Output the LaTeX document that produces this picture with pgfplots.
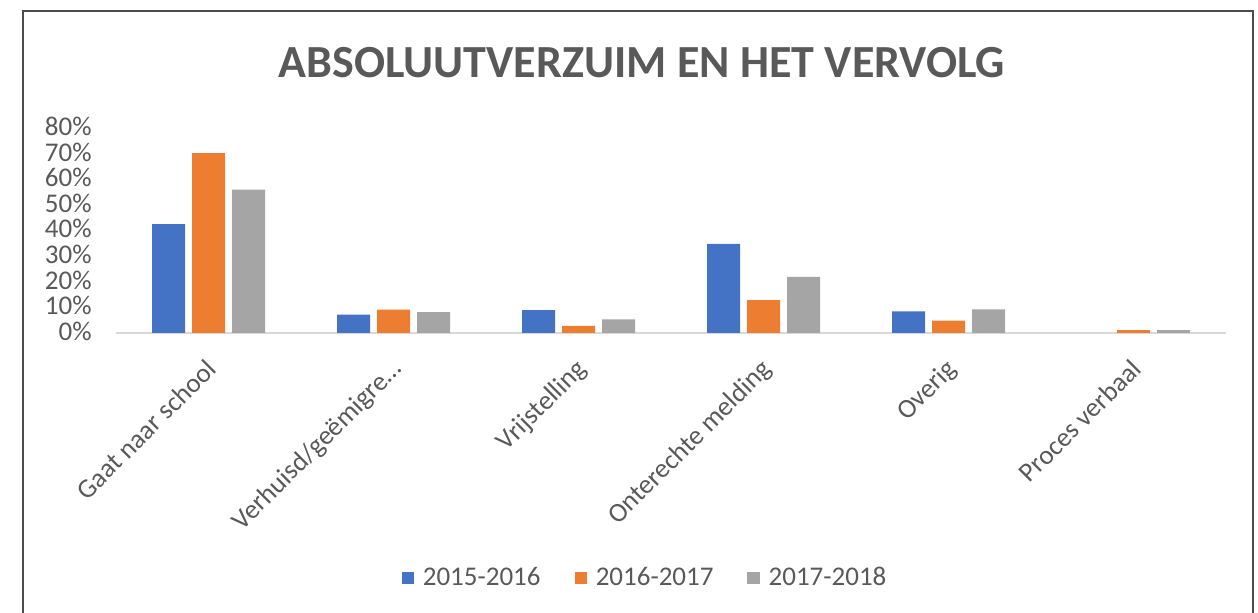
\documentclass[border=0pt]{standalone}
\usepackage{fontspec}
\setmainfont{Carlito}
\usepackage{pgfplots}
\pgfplotsset{compat=1.18}
\definecolor{cblue}{HTML}{4472C4}
\definecolor{corange}{HTML}{ED7D31}
\definecolor{cgray}{HTML}{A5A5A5}
\definecolor{txt}{HTML}{595959}

\pgfplotsset{
  sq legend/.style={legend image code/.code={\fill[##1] (0bp,-3.2bp) rectangle (6.4bp,3.2bp); \path (8.6bp,0bp);}}
}

\begin{document}
\begin{tikzpicture}
\path[use as bounding box] (0,0) rectangle (629bp,306.5bp);
\draw[black!70, line width=1.2bp] (11.5bp,-1bp) -- (11.5bp,301bp) -- (626.5bp,301bp) -- (626.5bp,-1bp);

\node[text=txt, font=\fontsize{23bp}{27bp}\selectfont\bfseries] at (321bp,275bp) {ABSOLUUTVERZUIM EN HET VERVOLG};

\begin{axis}[
  scale only axis,
  width=555bp, height=102.5bp,
  at={(58bp,140bp)}, anchor=south west,
  ybar=3.5bp, bar width=16.5bp,
  xmin=-0.5, xmax=5.5,
  ymin=0, ymax=80,
  xtick={0,1,2,3,4,5},
  xticklabels={{Gaat naar school}, {Verhuisd/geëmigre…}, {Vrijstelling}, {Onterechte melding}, {Overig}, {Proces verbaal}},
  ytick={0,10,20,30,40,50,60,70,80},
  yticklabel={\pgfmathprintnumber{\tick}\%},
  /pgf/number format/assume math mode=true,
  axis x line*=bottom,
  axis y line*=left,
  x axis line style={draw=black!15, line width=0.8bp},
  y axis line style={draw=none},
  major tick length=0pt,
  tick label style={text=txt, font=\fontsize{13.5bp}{16bp}\selectfont},
  yticklabel style={anchor=east, inner sep=0pt, xshift=-12bp, yshift=0.8bp},
  xticklabel style={xshift=-2bp, yshift=-12bp, rotate=45, anchor=north east, inner sep=0pt},
  legend columns=3,
  legend style={at={(0.4775,-1.195)}, anchor=center, draw=none, fill=none,
    font=\fontsize{13.5bp}{16bp}\selectfont, text=txt,
    /tikz/every even column/.append style={column sep=15bp}},
]
% 2015-2016
\addplot[fill=cblue, draw=none, sq legend] coordinates {(0,42.5) (1,7.2) (2,8.9) (3,34.8) (4,8.4) (5,0)};
% 2016-2017
\addplot[fill=corange, draw=none, sq legend] coordinates {(0,70.2) (1,9.1) (2,2.8) (3,12.8) (4,4.8) (5,1.1)};
% 2017-2018
\addplot[fill=cgray, draw=none, sq legend] coordinates {(0,56) (1,8.1) (2,5.3) (3,21.9) (4,9.2) (5,1.1)};
\legend{2015-2016, 2016-2017, 2017-2018}
\end{axis}
\end{tikzpicture}
\end{document}
